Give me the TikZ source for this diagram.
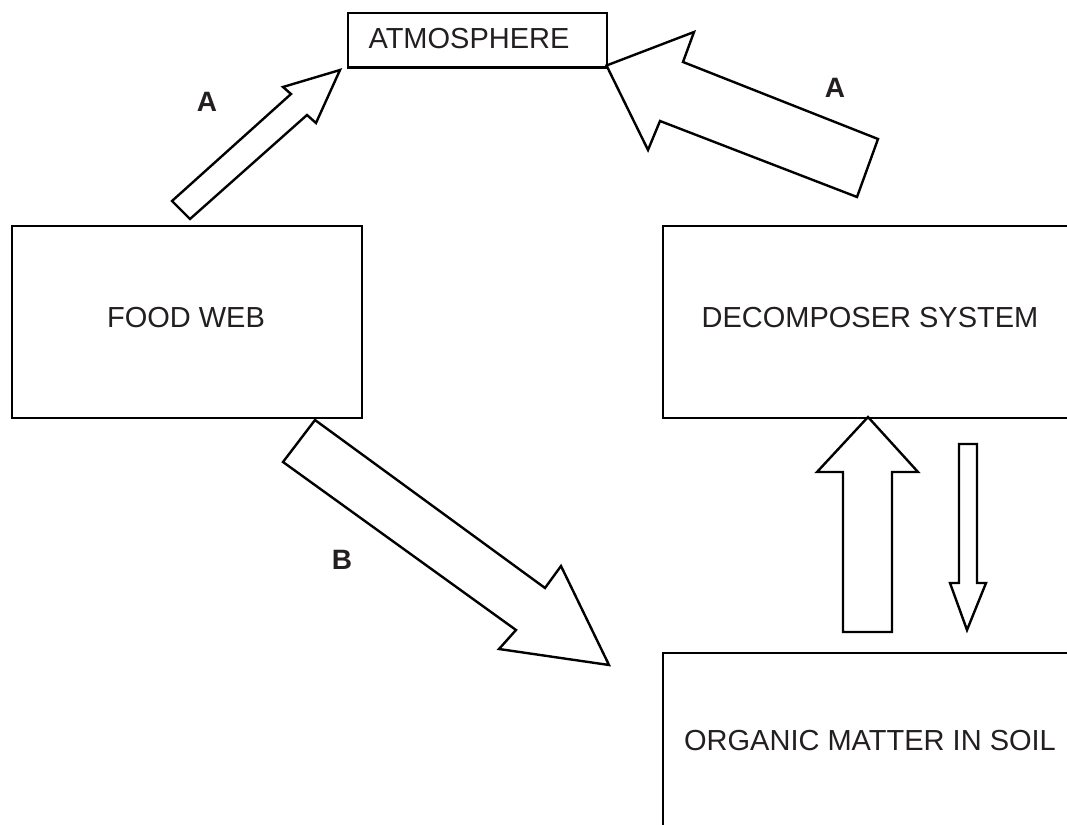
\documentclass[tikz,border=0pt]{standalone}
\usepackage{fontspec}
\setmainfont{Liberation Sans}
\definecolor{ink}{RGB}{35,31,32}
\begin{document}
\begin{tikzpicture}[x=1pt,y=-1pt, line width=2.4pt, line join=miter,
  box/.style={draw, inner sep=0pt, anchor=north west},
  lbl/.style={font=\fontsize{29}{34}\selectfont, text=ink, inner sep=0pt},
  tag/.style={font=\bfseries\fontsize{28}{34}\selectfont, text=ink, inner sep=0pt},
  blk/.style={draw, fill=white, line join=miter}]
\clip (0,0) rectangle (1067,824);
\fill[white] (0,0) rectangle (1067,824);
% boxes
\node[box, minimum width=259pt, minimum height=54.5pt] (atm) at (347,12) {};
\node[box, minimum width=350pt, minimum height=192pt] (food) at (11,225) {};
\node[box, minimum width=420pt, minimum height=192pt] (dec) at (662,225) {};
\node[box, minimum width=420pt, minimum height=200pt] (org) at (662,652) {};
% box texts
\node[lbl] (tatm) at (469,39) {ATMOSPHERE};
\node[lbl] (tfood) at (186,318) {FOOD WEB};
\node[lbl] (tdec) at (870,318) {DECOMPOSER SYSTEM};
\node[lbl] (torg) at (870,741) {ORGANIC MATTER IN SOIL};
% block arrows
\draw[blk] (172,201) -- (291,94) -- (283,87) -- (340,70) -- (316,123) -- (307,115) -- (190,219) -- cycle;
\draw[blk] (606.5,65.5) -- (694,32) -- (683,62) -- (878,139) -- (857,197) -- (660,121) -- (648,150) -- cycle;
\draw[blk] (315,420) -- (545,588) -- (561,566) -- (609,665) -- (499,649) -- (516,630) -- (283,462) -- cycle;
\draw[blk] (868,417) -- (918,472) -- (892,472) -- (892,632) -- (843,632) -- (843,472) -- (817,472) -- cycle;
\draw[blk] (959,444) -- (977,444) -- (977,583) -- (986,583) -- (967,630) -- (950,583) -- (959,583) -- cycle;
% labels
\node[tag] (la1) at (207,102) {A};
\node[tag] (la2) at (835,88) {A};
\node[tag] (lb) at (342,560) {B};
\end{tikzpicture}
\end{document}
